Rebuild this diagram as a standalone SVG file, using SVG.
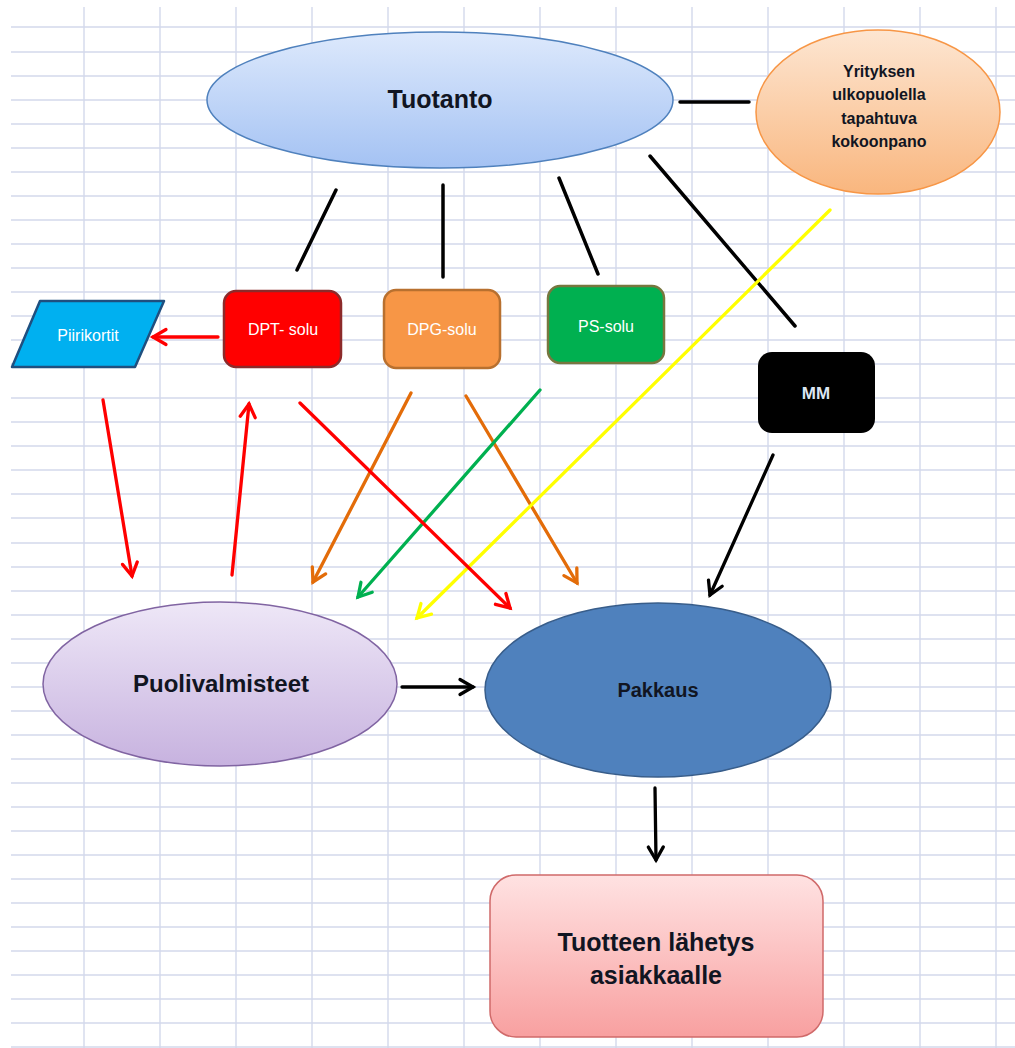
<svg xmlns="http://www.w3.org/2000/svg" width="1015" height="1048" viewBox="0 0 1015 1048">
<style>
.grid{stroke:#d3d9ec;stroke-width:1.4;fill:none}
.txt{font-family:"Liberation Sans",Arial,sans-serif;text-anchor:middle}
.b{font-weight:bold}
.dark{fill:#111522}
.wt{fill:#ffffff}
.ln{fill:none;stroke-width:3.5;stroke-linecap:round}
.ar{fill:none;stroke-width:3.3;stroke-linecap:round}
.hd{fill:none;stroke-width:3.3;stroke-linecap:round;stroke-linejoin:miter}
</style>
<defs>
<linearGradient id="gBlue" x1="0" y1="0" x2="0" y2="1"><stop offset="0" stop-color="#dde9fc"/><stop offset="1" stop-color="#a4c2f3"/></linearGradient>
<linearGradient id="gOrange" x1="0" y1="0" x2="0" y2="1"><stop offset="0" stop-color="#fde6d2"/><stop offset="1" stop-color="#f9b67e"/></linearGradient>
<linearGradient id="gPurple" x1="0" y1="0" x2="0" y2="1"><stop offset="0" stop-color="#eee7f7"/><stop offset="1" stop-color="#c7b2df"/></linearGradient>
<linearGradient id="gPink" x1="0" y1="0" x2="0" y2="1"><stop offset="0" stop-color="#ffe2e2"/><stop offset="1" stop-color="#f8a0a0"/></linearGradient>
<marker id="mRed" markerUnits="userSpaceOnUse" markerWidth="26" markerHeight="26" viewBox="-17 -13 21 26" refX="0" refY="0" orient="auto"><path class="hd" d="M-13,-7.5 L0,0 L-13,7.5" stroke="#ff0000"/></marker>
<marker id="mOrange" markerUnits="userSpaceOnUse" markerWidth="26" markerHeight="26" viewBox="-17 -13 21 26" refX="0" refY="0" orient="auto"><path class="hd" d="M-13,-7.5 L0,0 L-13,7.5" stroke="#e36c09"/></marker>
<marker id="mGreen" markerUnits="userSpaceOnUse" markerWidth="26" markerHeight="26" viewBox="-17 -13 21 26" refX="0" refY="0" orient="auto"><path class="hd" d="M-13,-7.5 L0,0 L-13,7.5" stroke="#00b050"/></marker>
<marker id="mYellow" markerUnits="userSpaceOnUse" markerWidth="26" markerHeight="26" viewBox="-17 -13 21 26" refX="0" refY="0" orient="auto"><path class="hd" d="M-13,-7.5 L0,0 L-13,7.5" stroke="#ffff00"/></marker>
<marker id="mBlack" markerUnits="userSpaceOnUse" markerWidth="26" markerHeight="26" viewBox="-17 -13 21 26" refX="0" refY="0" orient="auto"><path class="hd" d="M-13,-7.5 L0,0 L-13,7.5" stroke="#000000"/></marker>
</defs>
<rect x="0" y="0" width="1015" height="1048" fill="#ffffff"/>
<g id="grid">
<path class="grid" d="M11,27H1015M11,52H1015M11,76H1015M11,100H1015M11,124H1015M11,148H1015M11,172H1015M11,196H1015M11,220H1015M11,244H1015M11,268H1015M11,292H1015M11,316H1015M11,340H1015M11,364H1015M11,398H1015M11,422H1015M11,446H1015M11,470H1015M11,494H1015M11,518H1015M11,543H1015M11,567H1015M11,591H1015M11,615H1015M11,639H1015M11,663H1015M11,687H1015M11,711H1015M11,735H1015M11,759H1015M11,783H1015M11,807H1015M11,831H1015M11,855H1015M11,879H1015M11,903H1015M11,927H1015M11,951H1015M11,975H1015M11,999H1015M11,1023H1015M11,1047H1015"/>
<path class="grid" d="M84,7V1048M160,7V1048M236,7V1048M312,7V1048M388,7V1048M464,7V1048M540,7V1048M616,7V1048M692,7V1048M768,7V1048M844,7V1048M920,7V1048M996,7V1048"/>
</g>
<g id="connectors">
<path class="ln" stroke="#000" d="M680,102 L749,102"/>
<path class="ln" stroke="#000" d="M336,190 L297,270"/>
<path class="ln" stroke="#000" d="M443,185 L443,277"/>
<path class="ln" stroke="#000" d="M559,178 L598,274"/>
<path class="ln" stroke="#000" d="M650,156 L795,326"/>
<path class="ar" stroke="#ff0000" marker-end="url(#mRed)" d="M218,337 L153,337"/>
<path class="ar" stroke="#ff0000" marker-end="url(#mRed)" d="M103,400 L132,576"/>
<path class="ar" stroke="#ff0000" marker-end="url(#mRed)" d="M232,575 L249,404"/>
<path class="ar" stroke="#e36c09" marker-end="url(#mOrange)" d="M411,393 L313,582"/>
<path class="ar" stroke="#e36c09" marker-end="url(#mOrange)" d="M466,396 L577,583"/>
<path class="ar" stroke="#00b050" marker-end="url(#mGreen)" d="M540,390 L358,597"/>
<path class="ar" stroke="#ffff00" marker-end="url(#mYellow)" d="M830,210 L417,618"/>
<path class="ar" stroke="#ff0000" marker-end="url(#mRed)" d="M300,403 L510,608"/>
<path class="ar" stroke="#000" marker-end="url(#mBlack)" d="M773,455 L710,595"/>
<path class="ar" stroke="#000" marker-end="url(#mBlack)" d="M402,687 L473,687"/>
<path class="ar" stroke="#000" marker-end="url(#mBlack)" d="M655,788 L656,860"/>
</g>
<g id="tuotanto">
<ellipse cx="440" cy="100" rx="233" ry="68" fill="url(#gBlue)" stroke="#4f81bd" stroke-width="1.5"/>
<text class="txt b dark" x="440" y="108" font-size="25">Tuotanto</text>
</g>
<g id="yrityksen">
<ellipse cx="878" cy="112" rx="122" ry="82" fill="url(#gOrange)" stroke="#f79646" stroke-width="1.5"/>
<text class="txt b dark" font-size="16"><tspan x="879" y="77">Yrityksen</tspan><tspan x="879" y="100">ulkopuolella</tspan><tspan x="879" y="124">tapahtuva</tspan><tspan x="879" y="147">kokoonpano</tspan></text>
</g>
<g id="piirikortit">
<polygon points="40,301 164,301 135,367 12,367" fill="#00b0f0" stroke="#1f4f7f" stroke-width="2.5" stroke-linejoin="round"/>
<text class="txt wt" x="88" y="341" font-size="16">Piirikortit</text>
</g>
<g id="dpt">
<rect x="224" y="291" width="117" height="76" rx="12" fill="#ff0000" stroke="#8c2a2a" stroke-width="2.5"/>
<text class="txt wt" x="283" y="335" font-size="16">DPT- solu</text>
</g>
<g id="dpg">
<rect x="384" y="290" width="116" height="78" rx="12" fill="#f79646" stroke="#b8702f" stroke-width="2.5"/>
<text class="txt wt" x="442" y="335" font-size="16">DPG-solu</text>
</g>
<g id="ps">
<rect x="548" y="286" width="116" height="77" rx="12" fill="#00b050" stroke="#77773f" stroke-width="2.5"/>
<text class="txt wt" x="606" y="332" font-size="16">PS-solu</text>
</g>
<g id="mm">
<rect x="758" y="352" width="117" height="81" rx="14" fill="#000000"/>
<text class="txt b" x="816" y="399" font-size="17" fill="#dce6f2">MM</text>
</g>
<g id="puolivalmisteet">
<ellipse cx="220" cy="684" rx="177" ry="82" fill="url(#gPurple)" stroke="#8064a2" stroke-width="1.5"/>
<text class="txt b dark" x="221" y="692" font-size="24">Puolivalmisteet</text>
</g>
<g id="pakkaus">
<ellipse cx="658" cy="690" rx="173" ry="87" fill="#4f81bd" stroke="#385d8a" stroke-width="1.5"/>
<text class="txt b dark" x="658" y="697" font-size="20">Pakkaus</text>
</g>
<g id="lahetys">
<rect x="490" y="875" width="333" height="162" rx="26" fill="url(#gPink)" stroke="#d06a6a" stroke-width="1.5"/>
<text class="txt b dark" font-size="25"><tspan x="656" y="951">Tuotteen lähetys</tspan><tspan x="656" y="984">asiakkaalle</tspan></text>
</g>
</svg>
